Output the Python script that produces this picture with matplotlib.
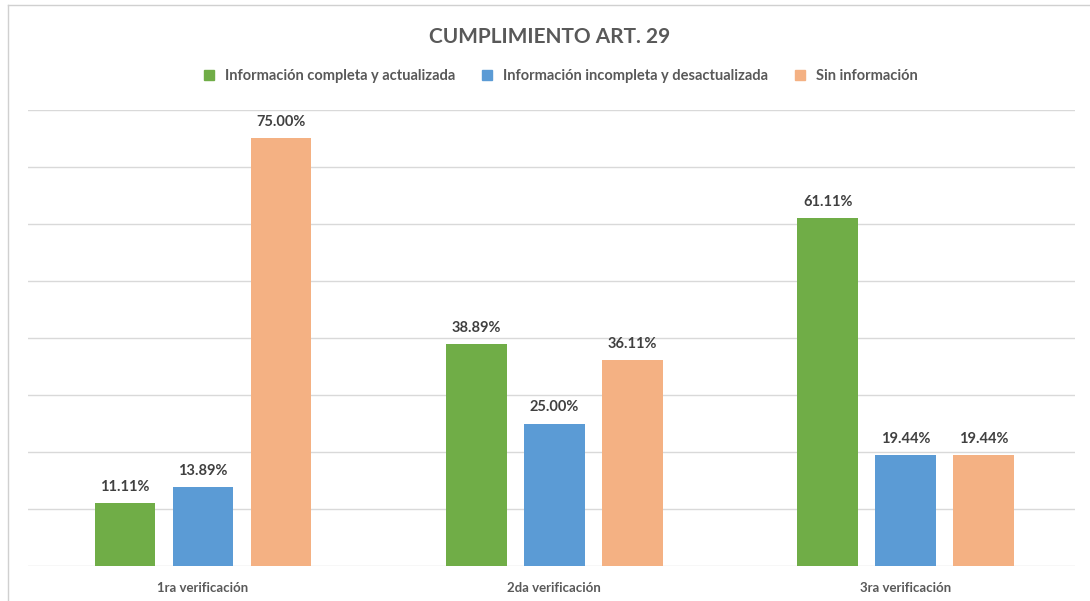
import matplotlib.pyplot as plt
import numpy as np
from matplotlib.lines import Line2D

# Data
categorias = ["1ra verificación", "2da verificación", "3ra verificación"]
completa = [11.11, 38.89, 61.11]
incompleta = [13.89, 25.00, 19.44]
sin_info = [75.00, 36.11, 19.44]
series = ["Información completa y actualizada",
          "Información incompleta y desactualizada",
          "Sin información"]
colores = ["#70AD47", "#5B9BD5", "#F4B183"]

plt.rcParams['font.family'] = ['Lato', 'DejaVu Sans']

fig = plt.figure(figsize=(10.9, 6.01), dpi=100)
ax = fig.add_axes([0.0257, 0.0582, 0.9603, 0.7588])

x = np.arange(len(categorias))
w = 0.1735
paso = 0.222
for i, (vals, nombre, c) in enumerate(zip([completa, incompleta, sin_info], series, colores)):
    pos = x + (i - 1) * paso
    ax.bar(pos, vals, width=w, color=c, label=nombre, zorder=3)
    for p, v in zip(pos, vals):
        ax.text(p, v + 1.6, f"{v:.2f}%", ha="center", va="bottom",
                fontsize=10.5, fontweight="bold", color="#404040")

ax.set_xlim(-0.498, 2.481)
ax.set_ylim(0, 80)
ax.set_yticks(np.arange(0, 81, 10))
ax.yaxis.grid(True, color="#D9D9D9", linewidth=1, zorder=0)
ax.tick_params(axis="y", left=False, labelleft=False)
ax.tick_params(axis="x", bottom=False, pad=8)
ax.set_xticks(x)
ax.set_xticklabels(categorias, fontsize=9.5, fontweight="bold", color="#595959")
for s in ax.spines.values():
    s.set_visible(False)

fig.text(0.504, 0.938, "CUMPLIMIENTO ART. 29", ha="center", va="center",
         fontsize=15, fontweight="bold", color="#595959")

handles = [Line2D([], [], marker="s", linestyle="", markersize=7, color=c) for c in colores]
fig.legend(handles, series, loc="center", bbox_to_anchor=(0.51, 0.874), ncol=3,
           frameon=False, handletextpad=0.1, columnspacing=1.2,
           prop={"weight": "bold", "size": 10.5})
for t in fig.legends[0].get_texts():
    t.set_color("#595959")

# frame border (top and left)
fig.add_artist(Line2D([8/1090, 8/1090], [0, 1 - 5/601], color="#D0D0D0", linewidth=1))
fig.add_artist(Line2D([8/1090, 1], [1 - 5/601, 1 - 5/601], color="#D0D0D0", linewidth=1))

fig.savefig("out.png", dpi=100)
